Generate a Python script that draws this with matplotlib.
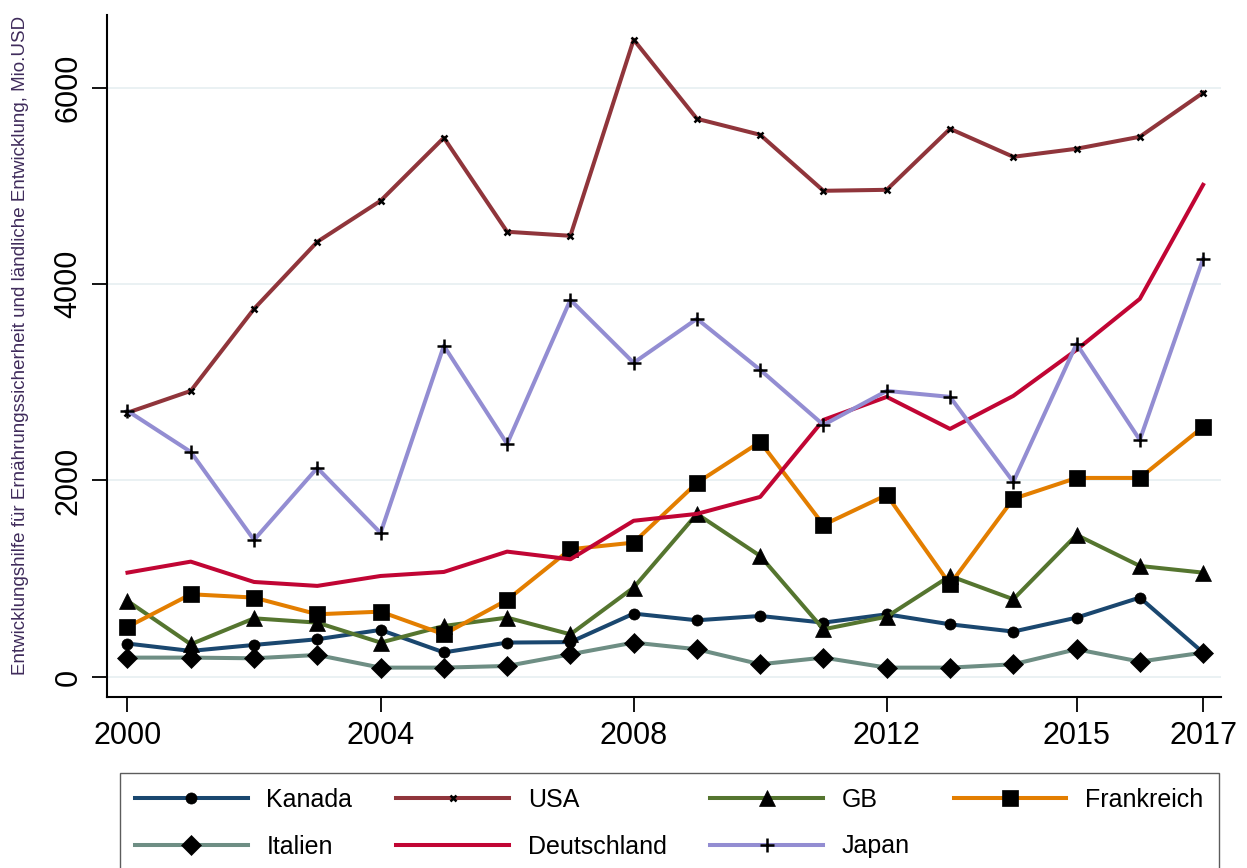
import matplotlib
matplotlib.use("Agg")
import matplotlib.pyplot as plt

years = list(range(2000, 2018))

kanada = [340, 265, 326, 384, 479, 250, 350, 355, 645, 577, 621, 553, 638, 536, 462, 604, 808, 248]
usa = [2690, 2912, 3747, 4430, 4847, 5489, 4532, 4491, 6487, 5682, 5519, 4949, 4959, 5580, 5295, 5377, 5499, 5947]
gb = [774, 333, 597, 553, 350, 519, 604, 434, 910, 1660, 1232, 485, 614, 1028, 791, 1446, 1130, 1062]
frankreich = [509, 842, 808, 638, 665, 434, 784, 1300, 1368, 1976, 2393, 1548, 1853, 943, 1813, 2026, 2026, 2546]
italien = [197, 197, 190, 224, 95, 95, 112, 231, 350, 282, 129, 197, 95, 95, 129, 282, 156, 248]
deutschland = [1062, 1174, 967, 927, 1028, 1069, 1276, 1198, 1590, 1660, 1833, 2617, 2851, 2525, 2861, 3330, 3849, 5010]
japan = [2709, 2291, 1395, 2128, 1466, 3371, 2373, 3839, 3198, 3646, 3126, 2566, 2912, 2851, 1986, 3391, 2413, 4257]

x_ticks = [2000, 2004, 2008, 2012, 2015, 2017]
y_ticks = [0, 2000, 4000, 6000]

plt.rcParams["font.family"] = ["Liberation Sans", "DejaVu Sans"]

# (label, values, colour, marker, markersize)
series = [
    ("Kanada", kanada, "#1a476f", "o", 8),
    ("USA", usa, "#90353b", "x", 4.5),
    ("GB", gb, "#55752f", "^", 11),
    ("Frankreich", frankreich, "#e37e00", "s", 11),
    ("Italien", italien, "#6e8e84", "D", 10),
    ("Deutschland", deutschland, "#c10534", None, 0),
    ("Japan", japan, "#938dd2", "+", 10),
]

fig = plt.figure(figsize=(12.47, 8.68), dpi=100)
ax = fig.add_axes([0.086, 0.197, 0.893, 0.786])

for y in y_ticks:
    ax.axhline(y, color="#e6eff1", linewidth=1.2, zorder=0)

lines = {}
for label, values, color, marker, ms in series:
    lines[label], = ax.plot(years, values, color=color, linewidth=2.9, marker=marker,
                            markersize=ms, markerfacecolor="black", markeredgecolor="black",
                            markeredgewidth=1.8 if marker in ("x", "+") else 0.5, label=label)

ax.set_xlim(1999.68, 2017.28)
ax.set_ylim(-204, 6741)
ax.set_xticks(x_ticks)
ax.set_yticks(y_ticks)
ax.set_yticklabels([str(v) for v in y_ticks], rotation=90, va="center")
ax.tick_params(axis="both", labelsize=22, length=11, width=1.3, direction="out", pad=6)

for side in ("top", "right"):
    ax.spines[side].set_visible(False)
for side in ("left", "bottom"):
    ax.spines[side].set_linewidth(1.5)

ax.set_ylabel("Entwicklungshilfe für Ernährungssicherheit und ländliche Entwicklung, Mio.USD",
              fontsize=13.5, color="#3f2b5b")
ax.yaxis.set_label_coords(-0.07, 0.515)

# matplotlib fills legend columns first, so order to get row-wise layout
legend_order = ["Kanada", "Italien", "USA", "Deutschland", "GB", "Japan", "Frankreich"]
fig.legend([lines[k] for k in legend_order], legend_order,
           loc="upper left", bbox_to_anchor=(120 / 1247, 1 - 773 / 868),
           borderaxespad=0, ncol=4, fontsize=18, frameon=True, fancybox=False,
           edgecolor="#333333", handlelength=4.5, handletextpad=0.76,
           columnspacing=1.75, labelspacing=0.9, borderpad=0.6)

fig.savefig("out.png", dpi=100)
